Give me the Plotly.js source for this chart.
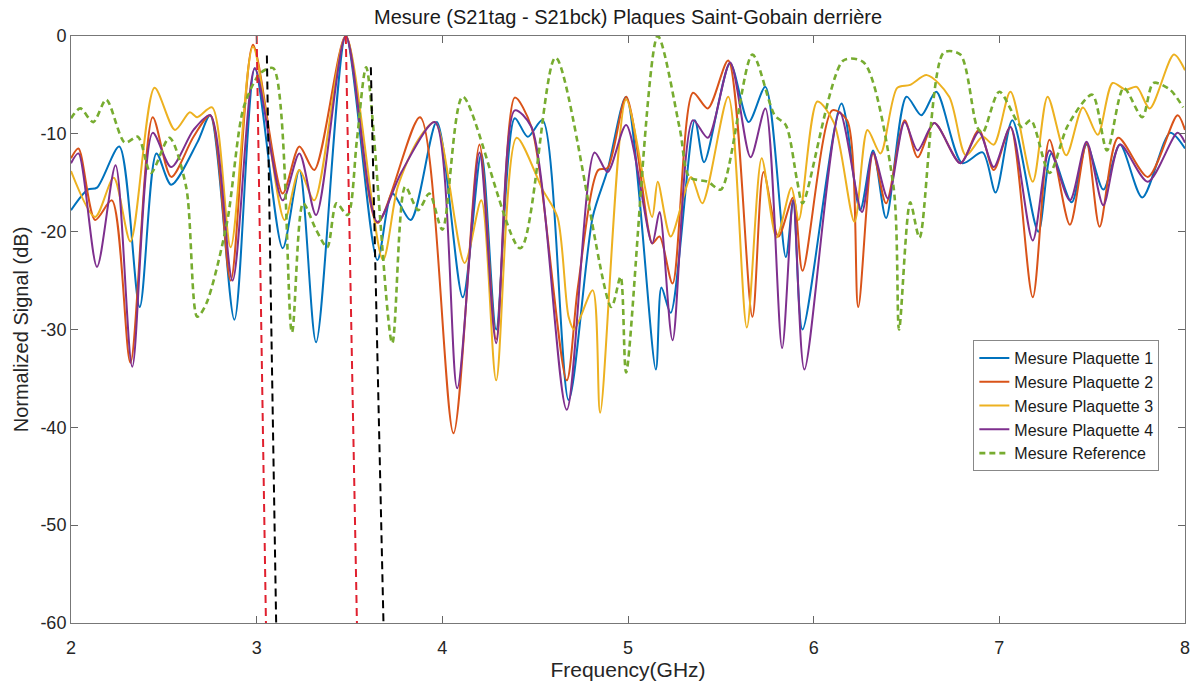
<!DOCTYPE html>
<html>
<head>
<meta charset="utf-8">
<script src="https://cdn.plot.ly/plotly-3.0.1.min.js"></script>
<style>html,body{margin:0;padding:0;background:#fff;}#chart{width:1193px;height:684px;}</style>
</head>
<body>
<div id="chart"></div>
<script>
// Plaquette 1
const freqP1 = [2.00,2.09,2.14,2.26,2.37,2.46,2.54,2.68,2.75,2.88,2.99,3.14,3.23,3.32,3.48,3.65,3.73,3.83,3.97,4.11,4.21,4.29,4.39,4.46,4.54,4.68,4.81,4.89,4.99,5.15,5.18,5.23,5.36,5.41,5.55,5.65,5.74,5.85,5.89,5.94,6.15,6.25,6.32,6.39,6.50,6.58,6.66,6.80,6.91,6.98,7.07,7.21,7.28,7.39,7.47,7.56,7.65,7.77,7.92,8.00];
const dbP1 = [-17.8,-15.7,-15.5,-11.3,-27.7,-12.0,-15.2,-10.9,-8.1,-29.0,-3.3,-21.7,-13.7,-31.3,0,-22.9,-16.1,-18.8,-8.8,-26.7,-12.0,-30.0,-8.4,-10.3,-8.6,-37.2,-18.5,-13.7,-6.2,-34.1,-25.7,-28.3,-8.6,-12.9,-2.8,-8.8,-5.2,-22.6,-16.8,-30.0,-6.9,-17.8,-11.7,-18.6,-6.2,-8.1,-5.7,-13.0,-11.9,-16.0,-8.6,-20.0,-12.0,-17.0,-11.1,-15.7,-11.1,-16.5,-9.9,-11.5];
// Plaquette 2
const freqP2 = [2.00,2.04,2.13,2.22,2.32,2.44,2.54,2.66,2.75,2.86,2.98,3.14,3.23,3.31,3.48,3.65,3.88,4.06,4.20,4.29,4.39,4.48,4.67,4.73,4.84,4.89,4.99,5.11,5.13,5.17,5.24,5.35,5.43,5.54,5.67,5.73,5.81,5.89,5.94,6.10,6.18,6.24,6.32,6.39,6.49,6.56,6.65,6.79,6.89,6.97,7.06,7.18,7.27,7.38,7.47,7.54,7.64,7.80,7.96,8.00];
const dbP2 = [-12.5,-11.5,-18.8,-16.8,-33.4,-8.3,-14.4,-10.3,-8.1,-25.0,-0.9,-16.1,-11.3,-13.7,0,-19.1,-8.3,-40.6,-11.1,-31.0,-6.3,-9.3,-35.2,-25.7,-13.7,-13.5,-6.2,-19.8,-21.2,-20.5,-25.3,-5.8,-7.4,-2.5,-28.7,-13.9,-20.5,-16.5,-24.0,-7.6,-8.6,-27.7,-12.0,-17.1,-8.6,-12.4,-8.9,-13.0,-9.6,-13.7,-9.3,-26.7,-10.6,-19.3,-10.9,-19.5,-10.4,-14.4,-8.1,-9.6];
// Plaquette 3
const freqP3 = [2.00,2.13,2.23,2.32,2.45,2.56,2.64,2.68,2.76,2.86,2.98,3.15,3.23,3.31,3.48,3.68,3.76,3.87,3.96,4.12,4.21,4.29,4.40,4.54,4.62,4.68,4.71,4.81,4.85,4.99,5.13,5.16,5.23,5.34,5.40,5.54,5.64,5.72,5.80,5.88,5.92,6.02,6.11,6.22,6.29,6.36,6.45,6.52,6.61,6.73,6.82,6.91,6.97,7.06,7.18,7.26,7.36,7.45,7.53,7.61,7.68,7.74,7.81,7.94,8.00];
const dbP3 = [-13.8,-18.5,-14.5,-21.0,-5.3,-9.6,-7.8,-8.3,-7.3,-21.6,-1.1,-18.8,-13.7,-16.8,0,-22.9,-15.4,-10.6,-8.8,-23.2,-16.8,-35.2,-10.4,-15.7,-18.5,-28.7,-30.0,-26.0,-38.5,-6.5,-18.5,-14.9,-20.5,-14.4,-17.1,-6.2,-29.8,-12.5,-20.6,-15.5,-18.8,-6.7,-8.9,-19.0,-9.6,-12.0,-5.3,-5.0,-4.0,-6.2,-12.2,-10.3,-11.1,-5.7,-14.9,-6.2,-12.2,-7.3,-10.1,-4.8,-5.5,-5.2,-7.4,-1.9,-3.5];
// Plaquette 4
const freqP4 = [2.00,2.04,2.14,2.24,2.33,2.44,2.54,2.66,2.75,2.87,2.99,3.14,3.23,3.32,3.48,3.65,3.78,3.96,4.08,4.20,4.29,4.39,4.48,4.67,4.82,4.89,4.99,5.13,5.17,5.24,5.35,5.43,5.55,5.66,5.74,5.83,5.89,5.95,6.14,6.26,6.32,6.40,6.49,6.56,6.65,6.79,6.89,6.97,7.06,7.18,7.27,7.38,7.47,7.56,7.65,7.80,7.96,8.00];
const dbP4 = [-13.0,-12.0,-23.6,-13.2,-33.8,-9.9,-13.4,-9.6,-8.1,-25.0,-3.3,-16.8,-12.0,-18.3,0,-19.0,-13.9,-8.8,-36.0,-11.9,-31.4,-7.6,-9.3,-38.2,-11.9,-13.9,-9.1,-21.2,-18.0,-31.1,-8.6,-10.4,-2.7,-12.4,-7.4,-31.9,-16.8,-34.1,-7.8,-18.0,-11.9,-16.6,-8.8,-11.7,-8.9,-13.0,-9.8,-13.4,-9.3,-20.9,-11.7,-16.8,-10.8,-17.3,-11.1,-14.9,-9.9,-10.9];
// Reference
const freqRef = [2.00,2.05,2.12,2.19,2.29,2.36,2.43,2.53,2.62,2.68,2.73,2.84,2.93,3.02,3.09,3.19,3.25,3.32,3.38,3.43,3.49,3.54,3.59,3.73,3.80,3.87,3.93,4.00,4.11,4.42,4.61,4.91,4.96,4.99,5.16,5.28,5.33,5.43,5.50,5.67,5.79,5.85,5.91,5.94,6.16,6.27,6.43,6.46,6.52,6.57,6.70,6.79,6.88,6.91,7.00,7.12,7.17,7.27,7.37,7.50,7.58,7.67,7.77,7.83,7.92,7.99];
const dbRef = [-8.4,-7.4,-8.8,-6.5,-10.9,-10.3,-14.0,-10.4,-15.4,-28.7,-27.3,-19.1,-7.3,-3.8,-3.3,-30.3,-17.1,-19.8,-21.6,-17.1,-18.3,-10.6,-3.2,-31.4,-15.4,-17.8,-16.1,-19.8,-6.2,-21.7,-2.2,-27.7,-24.6,-34.4,0,-9.6,-14.4,-14.9,-15.7,-1.9,-8.1,-9.1,-14.7,-17.1,-2.5,-2.7,-15.4,-30.0,-17.0,-20.6,-1.7,-1.9,-9.3,-9.9,-5.7,-9.3,-8.6,-14.0,-9.1,-6.0,-11.7,-5.3,-8.3,-4.8,-5.5,-7.3];
// Marker lines (frequency at top, frequency at bottom, dB at top)
const redFreqTop = [3.00, 3.48];
const redFreqBottom = [3.05, 3.54];
const redDbTop = [0, 0];
const blackFreqTop = [3.055, 3.615];
const blackFreqBottom = [3.105, 3.683];
const blackDbTop = [-2.0, -3.2];
const dbBottom = -60;

const seriesNames = ['Mesure Plaquette 1','Mesure Plaquette 2','Mesure Plaquette 3','Mesure Plaquette 4','Mesure Reference'];
const xTicks = [2,3,4,5,6,7,8];
const yTicks = [-60,-50,-40,-30,-20,-10,0];

const traces = [];
const cols = ['#0072BD','#D95319','#EDB120','#7E2F8E','#77AC30'];
const xs = [freqP1,freqP2,freqP3,freqP4];
const ys = [dbP1,dbP2,dbP3,dbP4];
for (let i=0;i<4;i++){
  traces.push({x:xs[i], y:ys[i], type:'scatter', mode:'lines', name:seriesNames[i],
    line:{shape:'spline', smoothing:0.8, width:2, color:cols[i]}});
}
traces.push({x:freqRef, y:dbRef, type:'scatter', mode:'lines', name:seriesNames[4],
  line:{shape:'spline', smoothing:0.8, width:2.6, color:cols[4], dash:'6px,4px'}});

for (let i=0;i<redFreqTop.length;i++){
  traces.push({x:[redFreqTop[i], redFreqBottom[i]], y:[redDbTop[i], dbBottom], type:'scatter', mode:'lines',
    showlegend:false, hoverinfo:'skip', line:{color:'#e0202e', width:2, dash:'8px,5px'}});
  traces.push({x:[blackFreqTop[i], blackFreqBottom[i]], y:[blackDbTop[i], dbBottom], type:'scatter', mode:'lines',
    showlegend:false, hoverinfo:'skip', line:{color:'#000000', width:2, dash:'8px,5px'}});
}

const fontFam = 'Liberation Sans, Arial, Helvetica, sans-serif';
const layout = {
  width:1193, height:684,
  margin:{l:71, r:8, t:36, b:61},
  paper_bgcolor:'#ffffff', plot_bgcolor:'#ffffff',
  font:{family:fontFam, size:18, color:'#262626'},
  title:{text:'Mesure (S21tag - S21bck) Plaques Saint-Gobain derrière', x:0.5265, xanchor:'center', y:0.975, yanchor:'middle', font:{size:20, color:'#1a1a1a'}},
  xaxis:{range:[2,8], tickvals:xTicks, ticktext:xTicks.map(String), ticks:'inside', ticklen:7, tickcolor:'#666',
    showline:true, linecolor:'#777', linewidth:1, mirror:'ticks', showgrid:false, zeroline:false,
    ticklabelstandoff:8,
    tickfont:{size:18}, title:{text:'Frequency(GHz)', standoff:1, font:{size:21}}},
  yaxis:{range:[-60,0], tickvals:yTicks, ticktext:yTicks.map(String), ticks:'inside', ticklen:7, tickcolor:'#666',
    showline:true, linecolor:'#777', linewidth:1, mirror:'ticks', showgrid:false, zeroline:false,
    tickfont:{size:18}, title:{text:'Normalized Signal (dB)', standoff:6, font:{size:20}}},
  showlegend:true,
  legend:{x:0.81, y:0.482, xanchor:'left', yanchor:'top', bgcolor:'#ffffff', bordercolor:'#888', borderwidth:1,
    font:{size:16, color:'#1a1a1a'}, itemwidth:30, tracegroupgap:0}
};
Plotly.newPlot('chart', traces, layout, {staticPlot:true, displayModeBar:false});
</script>
</body>
</html>
